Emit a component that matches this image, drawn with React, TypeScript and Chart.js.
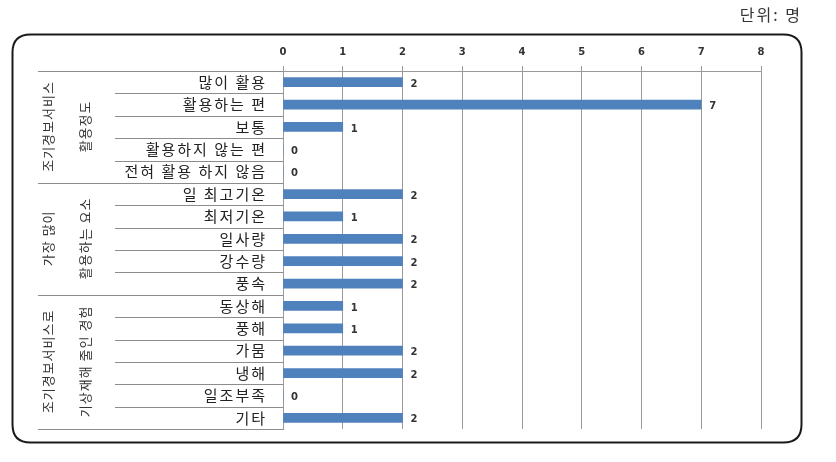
import React, { useEffect, useRef } from "react";
import { Chart, registerables } from "chart.js";

Chart.register(...registerables);

const categories = [
  "많이 활용",
  "활용하는 편",
  "보통",
  "활용하지 않는 편",
  "전혀 활용 하지 않음",
  "일 최고기온",
  "최저기온",
  "일사량",
  "강수량",
  "풍속",
  "동상해",
  "풍해",
  "가뭄",
  "냉해",
  "일조부족",
  "기타",
];
const values = [2, 7, 1, 0, 0, 2, 1, 2, 2, 2, 1, 1, 2, 2, 0, 2];
const groupLine1 = ["조기경보서비스", "가장 많이", "조기경보서비스로"];
const groupLine2 = ["활용정도", "활용하는 요소", "기상재해 줄인 경험"];
const groupStart = [0, 5, 10];
const groupEnd = [4, 9, 15];
const xTicks = [0, 1, 2, 3, 4, 5, 6, 7, 8];
const unitText = "단위: 명";

const KR = '"Noto Sans CJK KR", "Noto Sans", sans-serif';
const NUM = '"DejaVu Sans", Verdana, sans-serif';

const decorPlugin = {
  id: "decor",
  beforeDraw(chart: any) {
    const ctx = chart.ctx;
    ctx.save();
    const l = 12.5, t = 34.5, r = 801.5, b = 442.5, rad = 18;
    ctx.beginPath();
    ctx.moveTo(l + rad, t);
    ctx.lineTo(r - rad, t);
    ctx.quadraticCurveTo(r, t, r, t + rad);
    ctx.lineTo(r, b - rad);
    ctx.quadraticCurveTo(r, b, r - rad, b);
    ctx.lineTo(l + rad, b);
    ctx.quadraticCurveTo(l, b, l, b - rad);
    ctx.lineTo(l, t + rad);
    ctx.quadraticCurveTo(l, t, l + rad, t);
    ctx.closePath();
    ctx.lineWidth = 2;
    ctx.strokeStyle = "#1a1a1a";
    ctx.stroke();

    ctx.font = `16px ${KR}`;
    ctx.fillStyle = "#333";
    ctx.textAlign = "right";
    ctx.textBaseline = "middle";
    (ctx as any).letterSpacing = "2px";
    ctx.fillText(unitText, 802, 15);
    ctx.restore();
  },
  afterDraw(chart: any) {
    const ctx = chart.ctx;
    const y = chart.scales.y;
    const area = chart.chartArea;
    const n = categories.length;
    const bound = (i: number) => {
      if (i <= 0) return area.top;
      if (i >= n) return area.bottom;
      return (y.getPixelForValue(i - 1) + y.getPixelForValue(i)) / 2;
    };
    ctx.save();
    ctx.strokeStyle = "#8c8c8c";
    ctx.lineWidth = 1;
    for (let i = 0; i <= n; i++) {
      const isGroup = i === 0 || i === n || groupStart.includes(i);
      const yy = Math.round(bound(i)) + 0.5;
      ctx.beginPath();
      ctx.moveTo(isGroup ? 38 : 115, yy);
      ctx.lineTo(area.left, yy);
      ctx.stroke();
    }
    // category labels
    ctx.fillStyle = "#222";
    ctx.font = `15px ${KR}`;
    ctx.textAlign = "right";
    ctx.textBaseline = "middle";
    (ctx as any).letterSpacing = "2px";
    categories.forEach((c, i) => {
      ctx.fillText(c, area.left - 18 + 2, y.getPixelForValue(i));
    });
    // group labels (rotated)
    ctx.fillStyle = "#333";
    ctx.font = `13px ${KR}`;
    ctx.textAlign = "center";
    (ctx as any).letterSpacing = "1px";
    for (let g = 0; g < groupLine1.length; g++) {
      const cy = (bound(groupStart[g]) + bound(groupEnd[g] + 1)) / 2;
      [[48, groupLine1[g]], [85, groupLine2[g]]].forEach(([cx, txt]: any) => {
        ctx.save();
        ctx.translate(cx, cy);
        ctx.rotate(-Math.PI / 2);
        ctx.fillText(txt, 0.5, 0);
        ctx.restore();
      });
    }
    (ctx as any).letterSpacing = "0px";
    // data labels
    const meta = chart.getDatasetMeta(0);
    ctx.font = `bold 10px ${NUM}`;
    ctx.textAlign = "left";
    ctx.fillStyle = "#333";
    meta.data.forEach((bar: any, i: number) => {
      ctx.fillText(String(values[i]), bar.x + 8, bar.y + 2);
    });
    ctx.restore();
  },
};

export default function App() {
  const ref = useRef<HTMLCanvasElement | null>(null);
  useEffect(() => {
    if (!ref.current) return;
    const chart = new Chart(ref.current, {
      type: "bar",
      data: {
        labels: categories,
        datasets: [
          {
            data: values,
            backgroundColor: "#4F81BD",
            borderWidth: 0,
            barThickness: 9,
          },
        ],
      },
      options: {
        indexAxis: "y",
        responsive: false,
        animation: false,
        devicePixelRatio: 1,
        layout: { padding: { left: 0, top: 0, right: 75, bottom: 33 } },
        plugins: { legend: { display: false }, tooltip: { enabled: false } },
        scales: {
          x: {
            position: "top",
            min: 0,
            max: 8,
            afterFit: (s: any) => {
              s.height = 71;
            },
            afterBuildTicks: (s: any) => {
              s.ticks = xTicks.map((v) => ({ value: v }));
            },
            ticks: {
              padding: 8,
              font: { family: NUM, size: 10, weight: "bold" },
              color: "#333",
            },
            grid: { color: "#9a9a9a", tickLength: 5, drawTicks: true },
            border: { display: true, color: "#9a9a9a" },
          },
          y: {
            afterFit: (s: any) => {
              s.width = 283;
            },
            ticks: { display: false },
            grid: { display: false, drawTicks: false },
            border: { display: true, color: "#9a9a9a" },
          },
        },
      },
      plugins: [decorPlugin],
    });
    return () => chart.destroy();
  }, []);
  return (
    <div style={{ position: "absolute", left: 0, top: 0, width: 836, height: 462, background: "#fff" }}>
      <canvas ref={ref} width={836} height={462} style={{ display: "block" }} />
    </div>
  );
}
